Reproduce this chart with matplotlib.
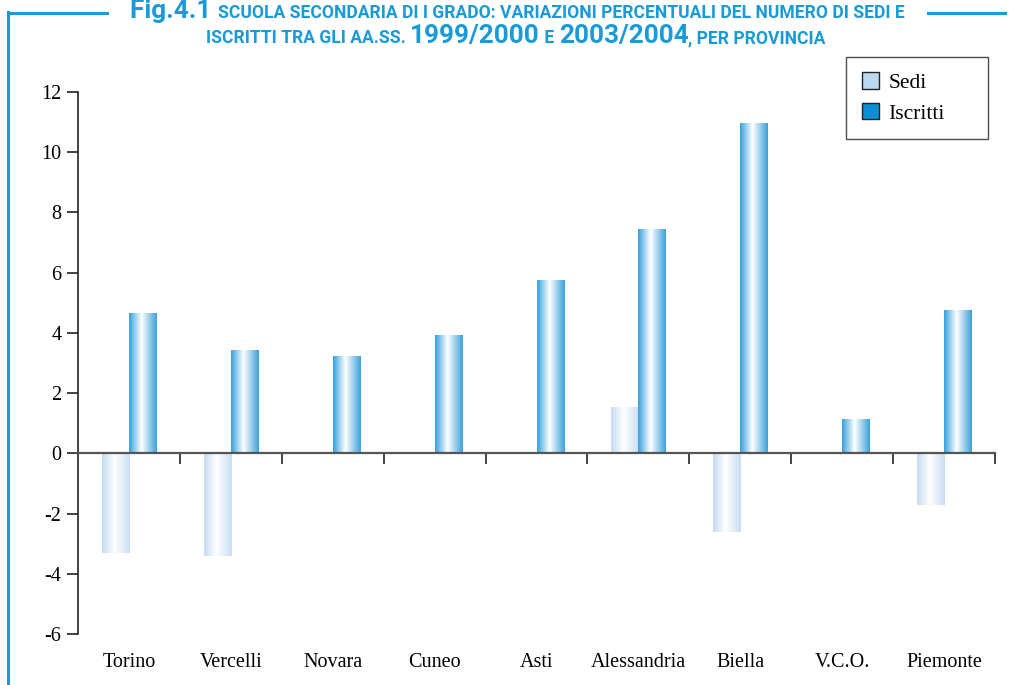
import numpy as np
import matplotlib
matplotlib.use("Agg")
import matplotlib.pyplot as plt
from matplotlib.colors import LinearSegmentedColormap
from matplotlib.patches import Patch
from matplotlib.lines import Line2D

categories = ["Torino", "Vercelli", "Novara", "Cuneo", "Asti", "Alessandria", "Biella", "V.C.O.", "Piemonte"]
sedi = [-3.32, -3.42, 0.0, 0.0, 0.0, 1.53, -2.6, 0.0, -1.73]
iscritti = [4.65, 3.42, 3.22, 3.92, 5.75, 7.44, 10.96, 1.13, 4.75]
yticks = [-6, -4, -2, 0, 2, 4, 6, 8, 10, 12]

BLUE = "#1a9ad6"
serif = ["Liberation Serif", "DejaVu Serif"]
title_font = ["Roboto", "DejaVu Sans"]
W, H = 1013, 685

fig = plt.figure(figsize=(W/100, H/100), dpi=100)
ax = fig.add_axes([78/W, 1-634/H, (995-78)/W, (634-92)/H])

x = np.arange(len(categories))
w = 0.265
b1 = ax.bar(x - w/2, sedi, w, color="#c6ddf2", linewidth=0)
b2 = ax.bar(x + w/2, iscritti, w, color="#2a9ad8", linewidth=0)

cm_sedi = LinearSegmentedColormap.from_list("s", [(0, "#c4dbf1"), (0.45, "#ffffff"), (1, "#c9def2")])
cm_isc = LinearSegmentedColormap.from_list("i", [(0, "#34a0dc"), (0.45, "#ffffff"), (1, "#3aa0da")])
grad = np.linspace(0, 1, 256).reshape(1, -1)
for bars, cm in ((b1, cm_sedi), (b2, cm_isc)):
    for p in bars:
        if p.get_height() == 0:
            continue
        x0 = p.get_x(); x1 = x0 + p.get_width()
        y0 = min(p.get_y(), p.get_y() + p.get_height())
        y1 = max(p.get_y(), p.get_y() + p.get_height())
        im = ax.imshow(grad, cmap=cm, extent=(x0, x1, y0, y1), aspect="auto", zorder=2, interpolation="bilinear")
        im.set_clip_path(p)

ax.set_xlim(-0.5, len(categories) - 0.5)
ax.set_ylim(-6, 12)

for s in ["top", "right"]:
    ax.spines[s].set_visible(False)
ax.spines["left"].set_linewidth(1.2)
ax.spines["left"].set_color("#222222")
ax.spines["bottom"].set_position(("data", 0))
ax.spines["bottom"].set_linewidth(1.6)
ax.spines["bottom"].set_color("#555555")
ax.spines["bottom"].set_zorder(3)

ax.set_yticks(yticks)
ax.set_yticklabels([str(v) for v in yticks], fontfamily=serif, fontsize=14.5)
ax.tick_params(axis="y", direction="out", length=8, width=1.2, color="#222222", pad=4)

ax.set_xticks(np.arange(len(categories)) + 0.5)
ax.set_xticklabels([])
ax.tick_params(axis="x", direction="out", length=8, width=1.4, color="#444444")

sec = ax.secondary_xaxis("bottom")
sec.set_xticks(x)
sec.set_xticklabels(categories, fontfamily=serif, fontsize=14.5)
sec.tick_params(length=0, pad=14)
sec.spines["bottom"].set_visible(False)

leg = fig.legend(handles=[Patch(facecolor="#bcd9f2", edgecolor="#222222", linewidth=1),
                          Patch(facecolor="#0a8fd4", edgecolor="#222222", linewidth=1)],
                 labels=["Sedi", "Iscritti"], loc="upper left", mode="expand",
                 bbox_to_anchor=(846/W, 1-135/H, 142/W, 78/H),
                 prop={"family": serif, "size": 15.5},
                 frameon=True, fancybox=False, edgecolor="#222222", handlelength=0.8, handleheight=0.8,
                 handletextpad=0.45, borderpad=0.72, labelspacing=0.45, borderaxespad=0)
leg.get_frame().set_linewidth(1.0)

# frame lines
fig.add_artist(Line2D([8/W, 107/W], [1-12.5/H, 1-12.5/H], color=BLUE, lw=2.2))
fig.add_artist(Line2D([928/W, 1005/W], [1-12.5/H, 1-12.5/H], color=BLUE, lw=2.2))
fig.add_artist(Line2D([8/W, 8/W], [1-11.5/H, 0], color=BLUE, lw=2.2))

# title with mixed sizes, sized to fit the reference widths
fig.canvas.draw()
renderer = fig.canvas.get_renderer()

def width_at(s, size):
    t = fig.text(0, 0, s, fontsize=size, fontweight="bold", fontfamily=title_font)
    wd = t.get_window_extent(renderer).width
    t.remove()
    return wd

big_txt = "Fig.4.1"
small_txt = "SCUOLA SECONDARIA DI I GRADO: VARIAZIONI PERCENTUALI DEL NUMERO DI SEDI E"
big_size = 10 * 82 / width_at(big_txt, 10)
small_size = 10 * 687 / width_at(small_txt, 10)

def line(parts, ybase, xstart):
    xpos = xstart
    for s, big in parts:
        size = big_size if big else small_size
        t = fig.text(xpos / W, 1 - ybase / H, s, fontsize=size, fontweight="bold", color=BLUE,
                     fontfamily=title_font, va="baseline", ha="left")
        xpos += t.get_window_extent(renderer).width
    return xpos

def total(parts):
    return sum(width_at(s, big_size if b else small_size) for s, b in parts)

p1 = [("Fig.4.1 ", True), (small_txt, False)]
p2 = [("ISCRITTI TRA GLI AA.SS. ", False), ("1999/2000", True), (" E ", False),
      ("2003/2004", True), (", PER PROVINCIA", False)]
line(p1, 18, 130)
line(p2, 43, 516 - total(p2) / 2)

fig.savefig("out.png", dpi=100)
